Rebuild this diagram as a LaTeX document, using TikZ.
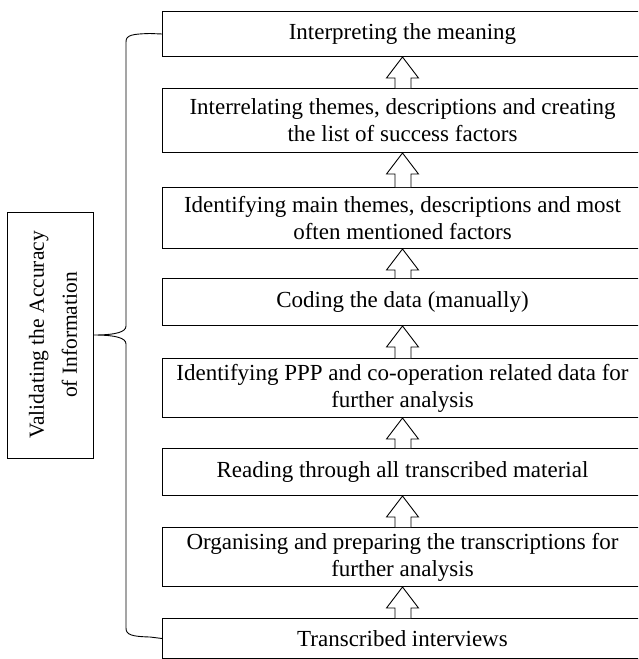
\documentclass[tikz,border=0pt]{standalone}
\usepackage{fontspec}
\setmainfont{Liberation Serif}
\usetikzlibrary{calc}
\begin{document}
\begin{tikzpicture}[x=1pt,y=-1pt,line width=1pt,
  stepbox/.style={draw, anchor=north west, minimum width=480pt, align=center, inner sep=0pt,
    font=\fontsize{23}{27}\selectfont},
  uparrow/.style={draw, fill=white, line width=0.9pt, line join=miter}]
\useasboundingbox (0,0) rectangle (638,659);
\clip (0,0) rectangle (638,659);
\fill[white] (0,0) rectangle (638,659);

\node[stepbox, minimum height=45pt] (b1) at (162,11) {Interpreting the meaning};
\node[stepbox, minimum height=64pt] (b2) at (162,88) {Interrelating themes, descriptions and creating\\the list of success factors};
\node[stepbox, minimum height=61pt] (b3) at (162,187) {Identifying main themes, descriptions and most\\often mentioned factors};
\node[stepbox, minimum height=47pt] (b4) at (162,278) {Coding the data (manually)};
\node[stepbox, minimum height=59pt] (b5) at (162,358) {Identifying PPP and co-operation related data for\\further analysis};
\node[stepbox, minimum height=47pt] (b6) at (162,448) {Reading through all transcribed material};
\node[stepbox, minimum height=59pt] (b7) at (162,527) {Organising and preparing the transcriptions for\\further analysis};
\node[stepbox, minimum height=40pt] (b8) at (162,618) {Transcribed interviews};

\newcommand{\uparr}[2]{%
  \draw[uparrow] ($(#1.north)+(-7.5,0)$) -- ($(#2.south)+(-7.5,21)$) -- ($(#2.south)+(-16,21)$)
    -- ($(#2.south)+(0,0)$) -- ($(#2.south)+(16,21)$) -- ($(#2.south)+(8.5,21)$) -- ($(#1.north)+(8.5,0)$);}
\uparr{b2}{b1}
\uparr{b3}{b2}
\uparr{b4}{b3}
\uparr{b5}{b4}
\uparr{b6}{b5}
\uparr{b7}{b6}
\uparr{b8}{b7}

\node[draw, minimum width=86pt, minimum height=246pt, inner sep=0pt] (v) at (50,335) {};
\node[rotate=90, align=center, inner sep=0pt, font=\fontsize{21.5}{33}\selectfont] (vt) at ($(v.center)+(3,0)$) {Validating the Accuracy\\of Information};

\draw[line width=0.9pt] (b1.west) -- (150,33.5) .. controls (132,34) and (126,35) .. (126,42)
  -- (126,326) .. controls (126,332) and (116,335) .. (v.east)
  .. controls (116,335) and (126,338) .. (126,344)
  -- (126,628) .. controls (126,635) and (132,636.5) .. (150,637) -- (b8.west);
\end{tikzpicture}
\end{document}
